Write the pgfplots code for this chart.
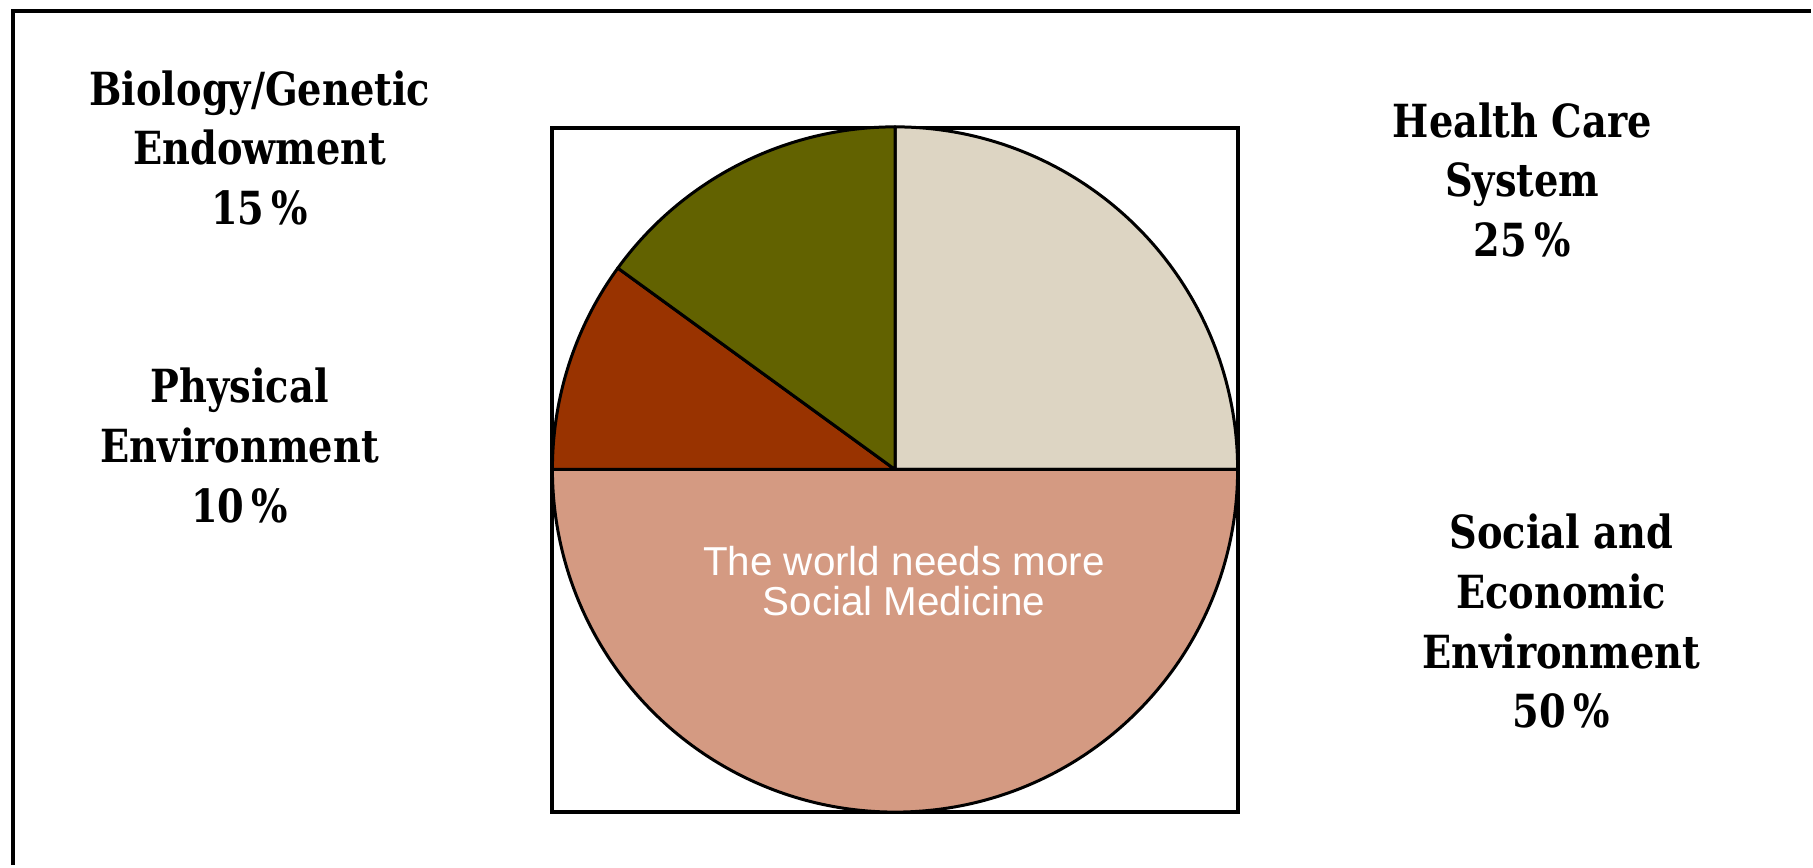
\documentclass[border=0pt]{standalone}
\usepackage{pgfplots}
\pgfplotsset{compat=1.18}
\usepackage{fontspec}
\setmainfont{Liberation Sans}
\newfontfamily\slab{DejaVu Serif}[FakeStretch=0.84]
\definecolor{hc}{HTML}{DDD5C3}
\definecolor{se}{HTML}{D49A82}
\definecolor{pe}{HTML}{993300}
\definecolor{bg}{HTML}{626200}
\begin{document}
\begin{tikzpicture}
\begin{axis}[
  scale only axis, width=181.3mm, height=86.6mm,
  xmin=0, xmax=1813, ymin=0, ymax=866,
  hide axis, clip=false,
]
\path (axis cs:0,0) rectangle (axis cs:1813,866);
% outer frame (open to the right and bottom)
\draw[line width=0.4mm] (axis cs:13,0) -- (axis cs:13,855) -- (axis cs:1813,855);
% square box
\draw[line width=0.4mm] (axis cs:553,53) rectangle (axis cs:1239,738);
% pie: values 25 (Health Care), 50 (Social/Economic), 10 (Physical), 15 (Biology), clockwise from 90 degrees
\filldraw[fill=hc, line width=0.3mm, line join=round] (axis cs:896,396) -- ++(90:34.3mm) arc[start angle=90, end angle={90-25*3.6}, radius=34.3mm] -- cycle;
\filldraw[fill=se, line width=0.3mm, line join=round] (axis cs:896,396) -- ++({90-25*3.6}:34.3mm) arc[start angle={90-25*3.6}, end angle={90-75*3.6}, radius=34.3mm] -- cycle;
\filldraw[fill=pe, line width=0.3mm, line join=round] (axis cs:896,396) -- ++({90-75*3.6}:34.3mm) arc[start angle={90-75*3.6}, end angle={90-85*3.6}, radius=34.3mm] -- cycle;
\filldraw[fill=bg, line width=0.3mm, line join=round] (axis cs:896,396) -- ++({90-85*3.6}:34.3mm) arc[start angle={90-85*3.6}, end angle={90-100*3.6}, radius=34.3mm] -- cycle;
% labels
\node[align=center, font=\slab\bfseries\fontsize{13}{17}\selectfont] at (axis cs:260,718) {Biology/Genetic\\Endowment\\15\,\%};
\node[align=center, font=\slab\bfseries\fontsize{13}{17}\selectfont] at (axis cs:240,420) {Physical\\Environment\\10\,\%};
\node[align=center, font=\slab\bfseries\fontsize{13}{17}\selectfont] at (axis cs:1524,686) {Health Care\\System\\25\,\%};
\node[align=center, font=\slab\bfseries\fontsize{13}{17}\selectfont] at (axis cs:1563,244) {Social and\\Economic\\Environment\\50\,\%};
\node[align=center, text=white, font=\fontsize{11.5}{11.5}\selectfont] at (axis cs:905,284) {The world needs more\\Social Medicine};
\end{axis}
\end{tikzpicture}
\end{document}
